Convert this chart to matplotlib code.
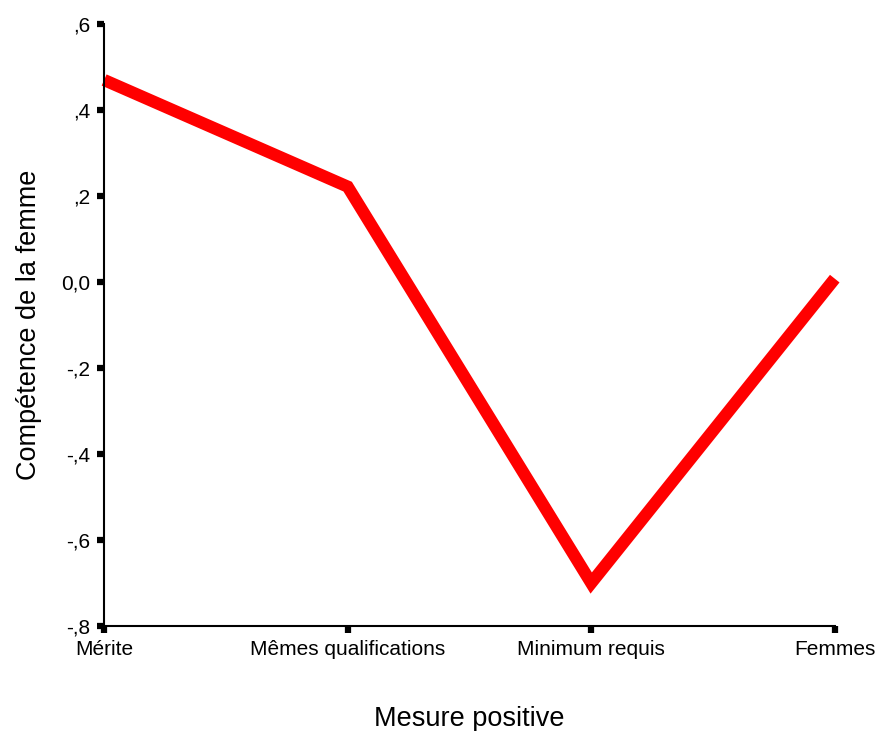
import matplotlib
matplotlib.use("Agg")
import matplotlib.pyplot as plt

categories = ["Mérite", "Mêmes qualifications", "Minimum requis", "Femmes"]
values = [0.47, 0.222, -0.70, 0.008]
yticks = [-0.8, -0.6, -0.4, -0.2, 0.0, 0.2, 0.4, 0.6]
yticklabels = ["-,8", "-,6", "-,4", "-,2", "0,0", ",2", ",4", ",6"]

plt.rcParams['font.family'] = ['Liberation Sans', 'DejaVu Sans']

fig = plt.figure(figsize=(8.75, 7.31), dpi=100)
ax = fig.add_axes([0.119, 0.1436, 0.835, 0.8234])

x = list(range(len(categories)))
ax.plot(x, values, color='#ff0000', linewidth=8.8, solid_capstyle='butt',
        solid_joinstyle='miter', clip_on=False)

ax.set_xlim(0, 3)
ax.set_ylim(-0.8, 0.6)
ax.set_xticks(x)
ax.set_xticklabels(categories, fontsize=15)
ax.set_yticks(yticks)
ax.set_yticklabels(yticklabels, fontsize=15)

for s in ['top', 'right']:
    ax.spines[s].set_visible(False)
for s in ['left', 'bottom']:
    ax.spines[s].set_linewidth(1.5)

ax.tick_params(axis='both', direction='out', length=5, width=4.5, pad=5)

ax.set_xlabel("Mesure positive", fontsize=19.5, labelpad=34)
ax.set_ylabel("Compétence de la femme", fontsize=19.5, labelpad=14)

fig.savefig("out.png", dpi=100)
